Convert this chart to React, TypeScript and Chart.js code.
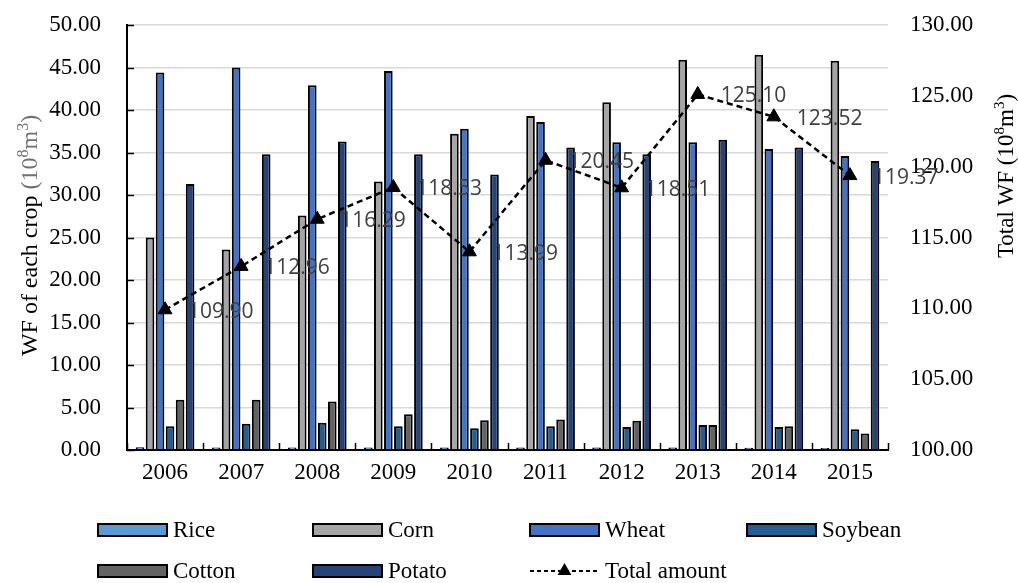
import React, { useEffect, useRef } from "react";
import { Chart, registerables } from "chart.js";

Chart.register(...registerables);

const years = ["2006", "2007", "2008", "2009", "2010", "2011", "2012", "2013", "2014", "2015"];
const rice = [0.32, 0.3, 0.3, 0.3, 0.28, 0.28, 0.28, 0.28, 0.26, 0.24];
const corn = [25.0, 23.6, 27.6, 31.6, 37.2, 39.3, 40.9, 45.9, 46.5, 45.8];
const wheat = [44.4, 45.0, 42.9, 44.6, 37.8, 38.6, 36.2, 36.2, 35.4, 34.6];
const soybean = [2.8, 3.1, 3.2, 2.8, 2.55, 2.8, 2.7, 2.95, 2.7, 2.45];
const cotton = [5.9, 5.9, 5.7, 4.2, 3.5, 3.6, 3.45, 2.95, 2.8, 1.95];
const potato = [31.3, 34.8, 36.3, 34.8, 32.4, 35.6, 34.8, 36.5, 35.6, 34.0];
const total = [109.9, 112.96, 116.29, 118.53, 113.99, 120.45, 118.51, 125.1, 123.52, 119.37];

const cropNames = ["Rice", "Corn", "Wheat", "Soybean", "Cotton", "Potato"];
const cropValues = [rice, corn, wheat, soybean, cotton, potato];
const cropColors = ["#5B9BD5", "#A5A5A5", "#4472C4", "#255E91", "#636363", "#264478"];
const totalName = "Total amount";

const leftMin = 0;
const leftMax = 50;
const leftStep = 5;
const rightMin = 100;
const rightMax = 130;
const rightStep = 5;

const SERIF = "'Liberation Serif', 'Times New Roman', serif";
const SANS = "'Open Sans', 'Liberation Sans', sans-serif";
const UNIT_GRAY = "#707070";

type Seg = { t: string; sup?: boolean; color?: string };

const leftTitle: Seg[] = [
  { t: "WF of each crop " },
  { t: "(10", color: UNIT_GRAY },
  { t: "8", sup: true, color: UNIT_GRAY },
  { t: "m", color: UNIT_GRAY },
  { t: "3", sup: true, color: UNIT_GRAY },
  { t: ")", color: UNIT_GRAY },
];
const rightTitle: Seg[] = [
  { t: "Total WF (10" },
  { t: "8", sup: true },
  { t: "m" },
  { t: "3", sup: true },
  { t: ")" },
];

function drawRich(ctx: CanvasRenderingContext2D, segs: Seg[], cx: number, cy: number, size: number) {
  ctx.save();
  ctx.translate(cx, cy);
  ctx.rotate(-Math.PI / 2);
  ctx.textAlign = "left";
  ctx.textBaseline = "alphabetic";
  const supSize = Math.round(size * 0.65);
  const widths = segs.map((s) => {
    ctx.font = `${s.sup ? supSize : size}px ${SERIF}`;
    return ctx.measureText(s.t).width;
  });
  const totalW = widths.reduce((a, b) => a + b, 0);
  let x = -totalW / 2;
  const base = size * 0.34;
  segs.forEach((s, i) => {
    ctx.font = `${s.sup ? supSize : size}px ${SERIF}`;
    ctx.fillStyle = s.color || "#000";
    ctx.fillText(s.t, x, s.sup ? base - size * 0.38 : base);
    x += widths[i];
  });
  ctx.restore();
}

function triangle(ctx: CanvasRenderingContext2D, x: number, y: number, r: number) {
  ctx.beginPath();
  for (let k = 0; k < 3; k++) {
    const a = (k * 2 * Math.PI) / 3;
    const px = x + Math.sin(a) * r;
    const py = y - Math.cos(a) * r;
    if (k === 0) ctx.moveTo(px, py);
    else ctx.lineTo(px, py);
  }
  ctx.closePath();
  ctx.fill();
}

const overlayPlugin = {
  id: "overlay",
  afterDatasetsDraw(chart: any) {
    const ctx: CanvasRenderingContext2D = chart.ctx;
    const meta = chart.getDatasetMeta(cropNames.length);
    ctx.save();
    ctx.font = `21px ${SANS}`;
    ctx.fillStyle = "#404040";
    ctx.textAlign = "left";
    ctx.textBaseline = "middle";
    meta.data.forEach((pt: any, i: number) => {
      ctx.fillText(total[i].toFixed(2), pt.x + 23, pt.y + 2);
    });
    ctx.restore();
  },
  afterDraw(chart: any) {
    const ctx: CanvasRenderingContext2D = chart.ctx;
    const area = chart.chartArea;
    const yScale = chart.scales.y;
    ctx.save();
    ctx.strokeStyle = "#000";
    ctx.lineWidth = 1.5;
    for (let v = leftMin; v <= leftMax; v += leftStep) {
      const py = Math.round(yScale.getPixelForValue(v)) + 0.5;
      ctx.beginPath();
      ctx.moveTo(area.left, py);
      ctx.lineTo(area.left + 7, py);
      ctx.stroke();
    }
    const n = years.length;
    for (let i = 0; i <= n; i++) {
      const px = Math.round(area.left + (i * (area.right - area.left)) / n) + 0.5;
      ctx.beginPath();
      ctx.moveTo(px, area.bottom);
      ctx.lineTo(px, area.bottom - 7);
      ctx.stroke();
    }
    ctx.restore();

    drawRich(ctx, leftTitle, 29, (area.top + area.bottom) / 2 - 2, 24);
    drawRich(ctx, rightTitle, 1005, 176, 23);

    const cols = [98, 313, 530, 747];
    const rows = [530, 571];
    const boxW = 69;
    const boxH = 12;
    const items: { label: string; color?: string; line?: boolean }[] = cropNames.map((name, i) => ({
      label: name,
      color: cropColors[i],
    }));
    items.push({ label: totalName, line: true });
    ctx.save();
    ctx.font = `23px ${SERIF}`;
    ctx.textAlign = "left";
    ctx.textBaseline = "middle";
    items.forEach((it, idx) => {
      const x = cols[idx % 4];
      const y = rows[Math.floor(idx / 4)];
      if (it.line) {
        ctx.strokeStyle = "#000";
        ctx.lineWidth = 2;
        ctx.setLineDash([4, 3]);
        ctx.beginPath();
        ctx.moveTo(x, y);
        ctx.lineTo(x + boxW, y);
        ctx.stroke();
        ctx.setLineDash([]);
        ctx.fillStyle = "#000";
        triangle(ctx, x + boxW / 2, y, 8);
      } else {
        ctx.fillStyle = it.color as string;
        ctx.fillRect(x, y - boxH / 2, boxW, boxH);
        ctx.strokeStyle = "#000";
        ctx.lineWidth = 2;
        ctx.strokeRect(x, y - boxH / 2, boxW, boxH);
      }
      ctx.fillStyle = "#000";
      ctx.fillText(it.label, x + boxW + 6, y + 1);
    });
    ctx.restore();
  },
};

export default function App() {
  const canvasRef = useRef<HTMLCanvasElement | null>(null);

  useEffect(() => {
    if (!canvasRef.current) return;
    const barSets = cropNames.map((name, i) => ({
      type: "bar" as const,
      label: name,
      data: cropValues[i],
      backgroundColor: cropColors[i],
      borderColor: "#000",
      borderWidth: 2,
      yAxisID: "y",
      barPercentage: 0.86,
      categoryPercentage: 0.79,
      order: 1,
    }));
    const lineSet = {
      type: "line" as const,
      label: totalName,
      data: total,
      yAxisID: "y1",
      borderColor: "#000",
      borderWidth: 2.5,
      borderDash: [6, 4],
      pointStyle: "triangle",
      pointRadius: 8,
      pointBackgroundColor: "#000",
      pointBorderColor: "#000",
      pointBorderWidth: 1,
      fill: false,
      tension: 0,
      order: 0,
    };
    const fixVertical = (w: number) => (s: any) => {
      s.width = w;
      s.paddingTop = 0;
      s.paddingBottom = 0;
    };
    const chart = new Chart(canvasRef.current, {
      type: "bar",
      data: { labels: years, datasets: [...barSets, lineSet] as any },
      options: {
        animation: false,
        responsive: true,
        maintainAspectRatio: false,
        layout: { padding: { top: 25, left: 0, right: 0, bottom: 0 } },
        plugins: { legend: { display: false }, tooltip: { enabled: false } },
        scales: {
          x: {
            grid: { display: false, drawTicks: false },
            border: { display: true, color: "#000", width: 2 },
            ticks: { color: "#000", font: { family: SERIF, size: 23 }, padding: 9 },
            afterFit: (s: any) => {
              s.height = 133;
              s.paddingLeft = 0;
              s.paddingRight = 0;
            },
          },
          y: {
            position: "left",
            min: leftMin,
            max: leftMax,
            grid: { color: "#D9D9D9", lineWidth: 1.5, drawTicks: false },
            border: { display: true, color: "#000", width: 2 },
            ticks: {
              stepSize: leftStep,
              color: "#000",
              font: { family: SERIF, size: 23 },
              padding: 26,
              callback: (v: any) => Number(v).toFixed(2),
            },
            afterFit: fixVertical(127),
          },
          y1: {
            position: "right",
            min: rightMin,
            max: rightMax,
            grid: { display: false, drawTicks: false },
            border: { display: false },
            ticks: {
              stepSize: rightStep,
              color: "#000",
              font: { family: SERIF, size: 23 },
              padding: 22,
              callback: (v: any) => Number(v).toFixed(2),
            },
            afterFit: fixVertical(130),
          },
        },
      } as any,
      plugins: [overlayPlugin],
    });
    return () => chart.destroy();
  }, []);

  return (
    <div style={{ position: "absolute", left: 0, top: 0, width: 1018, height: 583, background: "#fff" }}>
      <canvas ref={canvasRef} />
    </div>
  );
}
